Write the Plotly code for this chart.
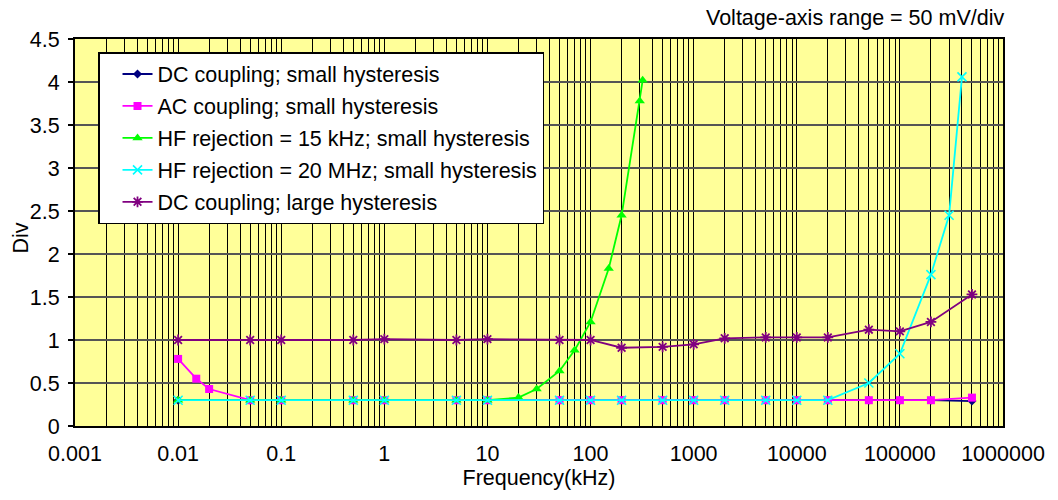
import plotly.graph_objects as go

# Frequency sweep results (kHz) and measured hysteresis width in divisions
freq_dc_small = [0.01, 0.05, 0.1, 0.5, 1, 5, 10, 50, 100, 200, 500, 1000, 2000,
                 5000, 10000, 20000, 50000, 100000, 200000, 500000]
div_dc_small = [0.3, 0.3, 0.3, 0.3, 0.3, 0.3, 0.3, 0.3, 0.3, 0.3, 0.3, 0.3, 0.3,
                0.3, 0.3, 0.3, 0.3, 0.3, 0.3, 0.29]

freq_ac_small = [0.01, 0.015, 0.02, 0.05, 0.1, 0.5, 1, 5, 10, 50, 100, 200, 500,
                 1000, 2000, 5000, 10000, 20000, 50000, 100000, 200000, 500000]
div_ac_small = [0.78, 0.55, 0.43, 0.3, 0.3, 0.3, 0.3, 0.3, 0.3, 0.3, 0.3, 0.3, 0.3,
                0.3, 0.3, 0.3, 0.3, 0.3, 0.3, 0.3, 0.3, 0.33]

freq_hf15k = [0.01, 0.05, 0.1, 0.5, 1, 5, 10, 20, 30, 50, 70, 100, 150, 200, 300, 320]
div_hf15k = [0.3, 0.3, 0.3, 0.3, 0.3, 0.3, 0.3, 0.33, 0.43, 0.64, 0.88, 1.21, 1.83,
             2.45, 3.78, 4.02]

freq_hf20m = [0.01, 0.05, 0.1, 0.5, 1, 5, 10, 50, 100, 200, 500, 1000, 2000, 5000,
              10000, 20000, 50000, 100000, 200000, 300000, 400000]
div_hf20m = [0.3, 0.3, 0.3, 0.3, 0.3, 0.3, 0.3, 0.3, 0.3, 0.3, 0.3, 0.3, 0.3, 0.3,
             0.3, 0.3, 0.5, 0.84, 1.76, 2.45, 4.06]

freq_dc_large = [0.01, 0.05, 0.1, 0.5, 1, 5, 10, 50, 100, 200, 500, 1000, 2000,
                 5000, 10000, 20000, 50000, 100000, 200000, 500000]
div_dc_large = [1.0, 1.0, 1.0, 1.0, 1.01, 1.0, 1.01, 1.0, 1.0, 0.91, 0.92, 0.95,
                1.02, 1.03, 1.03, 1.03, 1.12, 1.1, 1.21, 1.53]

x_tick_vals = [0.001, 0.01, 0.1, 1, 10, 100, 1000, 10000, 100000, 1000000]
x_tick_text = ["0.001", "0.01", "0.1", "1", "10", "100", "1000", "10000",
               "100000", "1000000"]

FONT = "Liberation Sans, Arial, sans-serif"
FS = 21.5

series = [
    ("DC coupling; small hysteresis", freq_dc_small, div_dc_small, "#000080",
     dict(symbol="diamond", size=7)),
    ("AC coupling; small hysteresis", freq_ac_small, div_ac_small, "#FF00FF",
     dict(symbol="square", size=8)),
    ("HF rejection = 15 kHz; small hysteresis", freq_hf15k, div_hf15k, "#00FF00",
     dict(symbol="triangle-up", size=9)),
    ("HF rejection = 20 MHz; small hysteresis", freq_hf20m, div_hf20m, "#00FFFF",
     dict(symbol="x-thin-open", size=9, line=dict(width=1.6, color="#00FFFF"))),
    ("DC coupling; large hysteresis", freq_dc_large, div_dc_large, "#800080",
     dict(symbol="asterisk-open", size=9, line=dict(width=1.8, color="#800080"))),
]

fig = go.Figure()
for i, (name, xs, ys, color, marker) in enumerate(series):
    fig.add_trace(go.Scatter(
        x=xs, y=ys, name=name, mode="lines+markers",
        line=dict(color=color, width=1.8),
        marker=dict(color=color, **marker),
        legendgroup=f"g{i}",
    ))

fig.update_layout(
    width=1058, height=500,
    margin=dict(l=75, r=55, t=39, b=74),
    paper_bgcolor="white",
    plot_bgcolor="#FFFF99",
    font=dict(family=FONT, size=FS, color="black"),
    showlegend=True,
    legend=dict(
        x=0.0248, y=0.9664, xanchor="left", yanchor="top",
        bgcolor="white", bordercolor="black", borderwidth=1.5,
        font=dict(family=FONT, size=FS, color="black"),
        traceorder="grouped", tracegroupgap=1, indentation=18,
        itemwidth=30,
    ),
    annotations=[
        dict(
            text="Voltage-axis range = 50 mV/div", xref="paper", yref="paper",
            x=1.003, y=1.054, xanchor="right", yanchor="middle", showarrow=False,
            font=dict(family=FONT, size=FS, color="black"),
        ),
        # y-axis title, placed next to the tick labels
        dict(
            text="Div", xref="paper", yref="paper",
            x=-0.0587, y=0.486, xanchor="center", yanchor="middle",
            textangle=-90, showarrow=False,
            font=dict(family=FONT, size=FS, color="black"),
        ),
    ],
)

fig.update_xaxes(
    type="log", range=[-3, 6],
    tickmode="array", tickvals=x_tick_vals, ticktext=x_tick_text,
    ticks="inside", ticklen=6, tickcolor="black", tickwidth=1,
    ticklabelstandoff=7,
    showgrid=True, gridcolor="black", gridwidth=1,
    minor=dict(dtick="D1", showgrid=True, gridcolor="black", gridwidth=1, ticks=""),
    showline=True, linecolor="black", linewidth=2, mirror=True,
    zeroline=False,
    title=dict(text="Frequency(kHz)", font=dict(family=FONT, size=FS), standoff=2),
    automargin=False,
)

fig.update_yaxes(
    range=[0, 4.5], dtick=0.5, tick0=0,
    ticks="outside", ticklen=5, tickcolor="black", tickwidth=2,
    ticklabelstandoff=4,
    showgrid=True, gridcolor="#555555", gridwidth=1.5,
    showline=True, linecolor="black", linewidth=2, mirror=True,
    zeroline=False,
    automargin=False,
)

fig.write_html("out.html")
